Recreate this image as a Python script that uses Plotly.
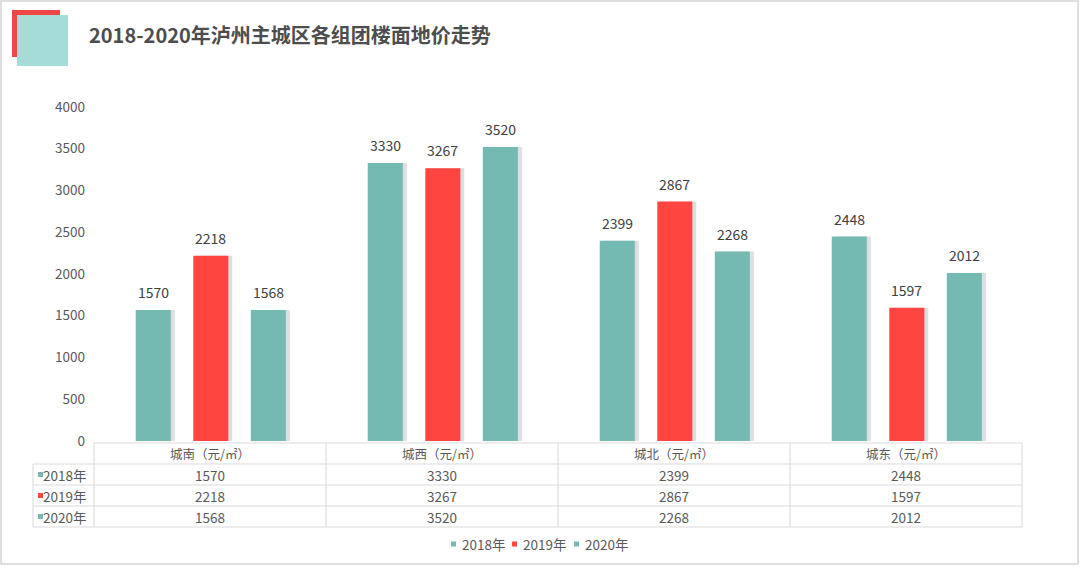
import plotly.graph_objects as go

# ---------------- data ----------------
categories = ["城南（元/㎡）", "城西（元/㎡）", "城北（元/㎡）", "城东（元/㎡）"]
series_names = ["2018年", "2019年", "2020年"]
values_2018 = [1570, 3330, 2399, 2448]
values_2019 = [2218, 3267, 2867, 1597]
values_2020 = [1568, 3520, 2268, 2012]
y_ticks = [0, 500, 1000, 1500, 2000, 2500, 3000, 3500, 4000]
title_text = "2018-2020年泸州主城区各组团楼面地价走势"

# ---------------- style ----------------
W, H = 1080, 576
PL, PR, PT, PB = 94, 1022, 107, 441          # plot area in pixels
FONT = "Noto Sans CJK SC, Microsoft YaHei, sans-serif"
TEAL = "#74BAB3"
RED = "#FF4540"
colors = [TEAL, RED, TEAL]
TXT = "#595959"
GRID = "#D9D9D9"

BAR_W = 0.151
offsets = [-0.32, -0.072, 0.176]
SHADOW_DX = 4 / (PR - PL) * 4


def px_x(p):
    return (p - PL) / (PR - PL)


def px_y(p):
    return (PB - p) / (PB - PT)


series = [values_2018, values_2019, values_2020]
x_idx = list(range(len(categories)))

fig = go.Figure()

# shadows
for vals, off in zip(series, offsets):
    fig.add_trace(go.Bar(
        x=x_idx, y=vals, width=BAR_W, offset=off + SHADOW_DX,
        marker=dict(color="rgba(0,0,0,0.13)", line=dict(width=0)),
        showlegend=False, hoverinfo="skip"))

# bars
for name, vals, off, col in zip(series_names, series, offsets, colors):
    fig.add_trace(go.Bar(
        x=x_idx, y=vals, width=BAR_W, offset=off, name=name,
        marker=dict(color=col, line=dict(width=0)),
        showlegend=False))

annotations = []
shapes = []

# value labels above bars
for vals, off in zip(series, offsets):
    for i, v in enumerate(vals):
        annotations.append(dict(
            x=i + off + BAR_W / 2, y=v, xref="x", yref="y",
            xanchor="center", yanchor="middle",
            text=str(v), showarrow=False, yshift=18,
            font=dict(family=FONT, size=14, color="#404040")))

# ---------- data table ----------
ROW_EDGES = [443, 464, 485, 506, 527]
TABLE_LEFT = 33
ncat = len(categories)
line_style = dict(color=GRID, width=1)

# horizontal lines
shapes.append(dict(type="line", xref="paper", yref="paper",
                   x0=0, x1=1, y0=px_y(ROW_EDGES[0]), y1=px_y(ROW_EDGES[0]),
                   line=line_style))
for yy in ROW_EDGES[1:]:
    shapes.append(dict(type="line", xref="paper", yref="paper",
                       x0=px_x(TABLE_LEFT), x1=1, y0=px_y(yy), y1=px_y(yy),
                       line=line_style))
# vertical lines
for i in range(ncat + 1):
    shapes.append(dict(type="line", xref="paper", yref="paper",
                       x0=i / ncat, x1=i / ncat,
                       y0=px_y(ROW_EDGES[0]), y1=px_y(ROW_EDGES[-1]),
                       line=line_style))
shapes.append(dict(type="line", xref="paper", yref="paper",
                   x0=px_x(TABLE_LEFT), x1=px_x(TABLE_LEFT),
                   y0=px_y(ROW_EDGES[1]), y1=px_y(ROW_EDGES[-1]),
                   line=line_style))

# header labels
for i, c in enumerate(categories):
    annotations.append(dict(
        x=(i + 0.5) / ncat, y=px_y((ROW_EDGES[0] + ROW_EDGES[1]) / 2),
        xref="paper", yref="paper", text=c, showarrow=False,
        xanchor="center", yanchor="middle",
        font=dict(family=FONT, size=12.5, color=TXT)))

# rows
for r, (name, vals, col) in enumerate(zip(series_names, series, colors)):
    yc = (ROW_EDGES[r + 1] + ROW_EDGES[r + 2]) / 2
    annotations.append(dict(
        x=px_x(88), y=px_y(yc), xref="paper", yref="paper",
        text=name, showarrow=False, xanchor="right", yanchor="middle",
        font=dict(family=FONT, size=13.5, color=TXT)))
    shapes.append(dict(type="rect", xref="paper", yref="paper",
                       x0=px_x(38), x1=px_x(43),
                       y0=px_y(yc + 2.5), y1=px_y(yc - 2.5),
                       fillcolor=col, line=dict(width=0)))
    for i, v in enumerate(vals):
        annotations.append(dict(
            x=(i + 0.5) / ncat, y=px_y(yc), xref="paper", yref="paper",
            text=str(v), showarrow=False,
            xanchor="center", yanchor="middle",
            font=dict(family=FONT, size=13.5, color=TXT)))

# ---------- bottom legend ----------
legend_sq = [451, 512, 574]
legend_tx = [460, 521, 583]
LEG_Y = 544
for name, col, sx, tx in zip(series_names, colors, legend_sq, legend_tx):
    shapes.append(dict(type="rect", xref="paper", yref="paper",
                       x0=px_x(sx), x1=px_x(sx + 5),
                       y0=px_y(LEG_Y + 2.5), y1=px_y(LEG_Y - 2.5),
                       fillcolor=col, line=dict(width=0)))
    annotations.append(dict(
        x=px_x(tx), y=px_y(LEG_Y), xref="paper", yref="paper",
        text=name, showarrow=False, xanchor="left", yanchor="middle",
        font=dict(family=FONT, size=13.5, color=TXT)))

# ---------- title + icon ----------
shapes.append(dict(type="rect", xref="paper", yref="paper",
                   x0=px_x(12), x1=px_x(60), y0=px_y(57), y1=px_y(10),
                   fillcolor="#EE4646", line=dict(width=0)))
shapes.append(dict(type="rect", xref="paper", yref="paper",
                   x0=px_x(17), x1=px_x(68), y0=px_y(66), y1=px_y(15),
                   fillcolor="#A6DCD7", line=dict(width=0)))
annotations.append(dict(
    x=px_x(87), y=px_y(34), xref="paper", yref="paper",
    text="<b>" + title_text + "</b>", showarrow=False,
    xanchor="left", yanchor="middle",
    font=dict(family=FONT, size=20, color="#4D4D4D")))

# outer frame
shapes.append(dict(type="rect", xref="paper", yref="paper",
                   x0=px_x(1), x1=px_x(1078), y0=px_y(564), y1=px_y(1),
                   line=dict(color="#D4D4D4", width=1.5)))

fig.update_layout(
    width=W, height=H,
    margin=dict(l=PL, r=W - PR, t=PT, b=H - PB, pad=0),
    paper_bgcolor="white", plot_bgcolor="white",
    barmode="overlay", showlegend=False,
    xaxis=dict(range=[-0.5, len(categories) - 0.5], visible=False,
               fixedrange=True),
    yaxis=dict(range=[0, 4000], tickvals=y_ticks, showgrid=False,
               zeroline=False, showline=False, ticks="",
               ticklabelstandoff=8,
               tickfont=dict(family=FONT, size=13.5, color=TXT),
               fixedrange=True),
    annotations=annotations, shapes=shapes,
    font=dict(family=FONT, color=TXT),
)

fig.write_html("out.html", config={"displayModeBar": False})
